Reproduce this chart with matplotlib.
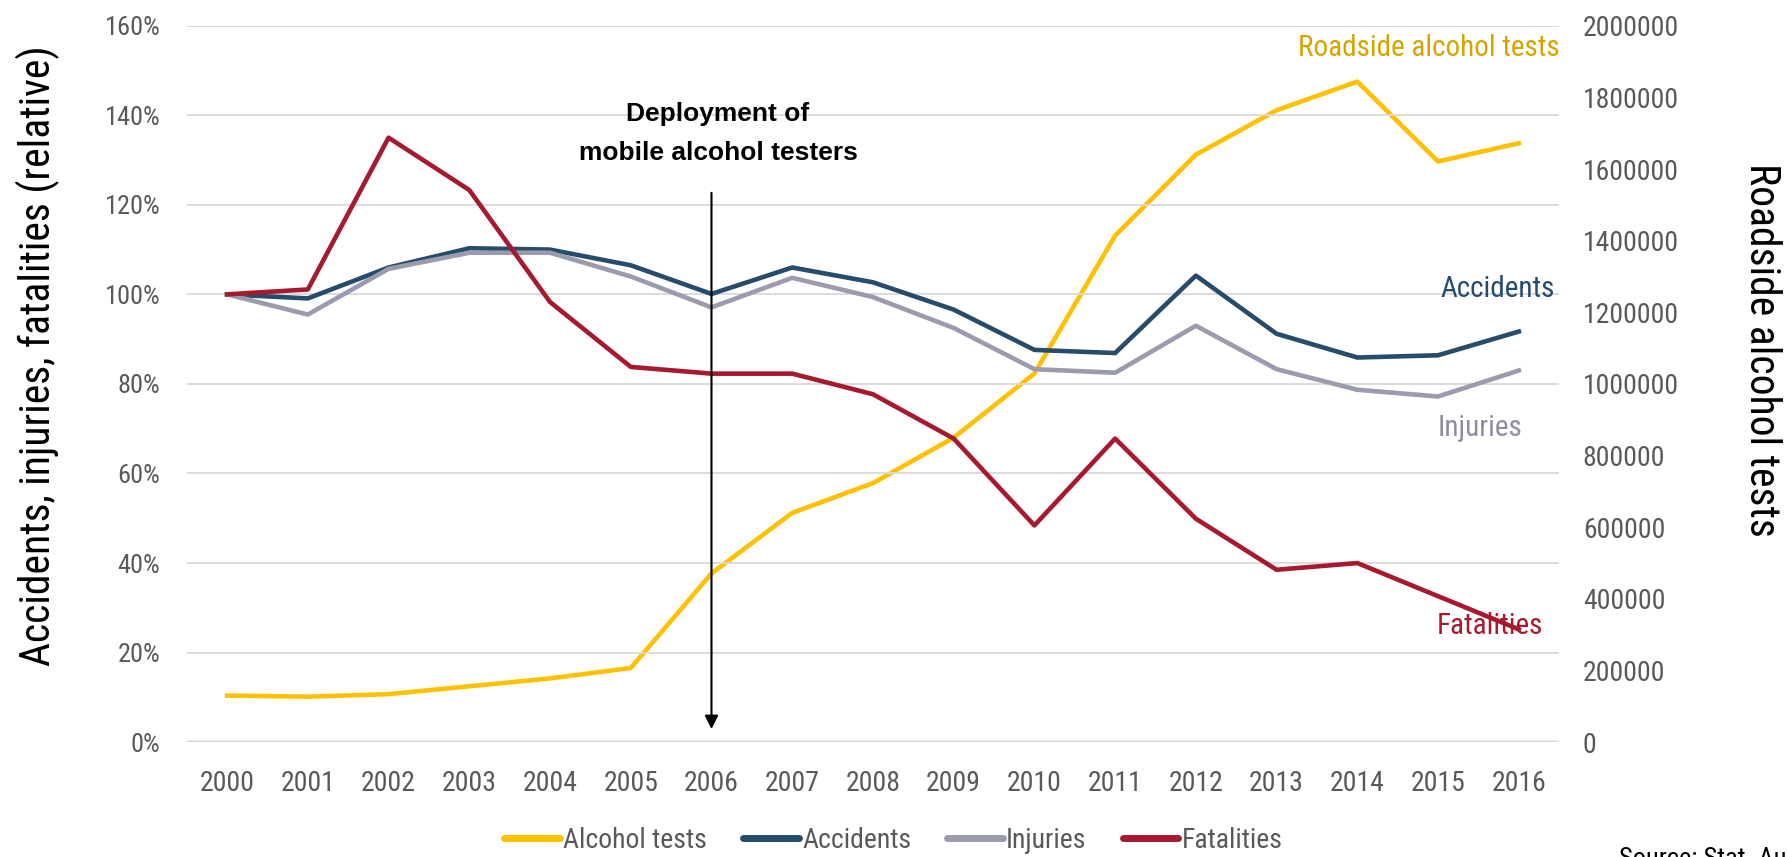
import matplotlib
matplotlib.use("Agg")
import matplotlib.pyplot as plt
from matplotlib.ticker import FuncFormatter

# data
years = ['2000', '2001', '2002', '2003', '2004', '2005', '2006', '2007', '2008',
         '2009', '2010', '2011', '2012', '2013', '2014', '2015', '2016']
alcohol_tests = [130000, 127000, 134000, 156000, 178000, 207000, 471000, 640000, 723000,
                 850000, 1029000, 1414000, 1640000, 1764000, 1844000, 1621000, 1672000]
accidents = [100, 99.1, 106, 110.3, 110, 106.5, 100.1, 106, 102.7,
             96.6, 87.6, 86.9, 104.2, 91.2, 85.9, 86.4, 91.7]
injuries = [100, 95.5, 105.7, 109.3, 109.3, 104, 97.1, 103.7, 99.4,
            92.5, 83.3, 82.5, 93, 83.3, 78.7, 77.2, 83]
fatalities = [100, 101.1, 135, 123.3, 98.3, 83.8, 82.3, 82.3, 77.7,
              67.8, 48.4, 67.8, 49.9, 38.5, 40, 32.6, 25.2]

c_alc = '#FFC000'
c_acc = '#264B6B'
c_inj = '#9A9BAD'
c_fat = '#A6192E'
tick_col = '#595959'
narrow = ['Roboto Condensed', 'Liberation Sans', 'DejaVu Sans']
plain = ['Liberation Sans', 'DejaVu Sans']

fig = plt.figure(figsize=(17.87, 8.57), dpi=100)
ax1 = fig.add_axes([0.1045, 0.134, 0.768, 0.836])
ax2 = ax1.twinx()

x = list(range(len(years)))
lw = 3.3
l_alc, = ax2.plot(x, alcohol_tests, color=c_alc, lw=lw, solid_joinstyle='round')
l_acc, = ax1.plot(x, accidents, color=c_acc, lw=lw, solid_joinstyle='round')
l_inj, = ax1.plot(x, injuries, color=c_inj, lw=lw, solid_joinstyle='round')
l_fat, = ax1.plot(x, fatalities, color=c_fat, lw=lw, solid_joinstyle='round')
ax1.set_zorder(ax2.get_zorder() + 1)
ax1.patch.set_visible(False)

ax1.set_xlim(-0.5, 16.5)
ax1.set_ylim(0, 160)
ax2.set_ylim(0, 2000000)
ax1.set_yticks(range(0, 161, 20))
ax2.set_yticks(range(0, 2000001, 200000))
ax1.yaxis.set_major_formatter(FuncFormatter(lambda v, p: f'{v:.0f}%'))
ax2.yaxis.set_major_formatter(FuncFormatter(lambda v, p: f'{v:.0f}'))
ax1.set_xticks(x)
ax1.set_xticklabels(years, family=narrow, fontsize=20, color=tick_col)

ax1.grid(axis='y', color='#D9D9D9', lw=1.3)
ax1.set_axisbelow(True)
for ax in (ax1, ax2):
    for s in ('top', 'left', 'right', 'bottom'):
        ax.spines[s].set_visible(False)
ax1.axhline(0, color='#BFBFBF', lw=2.5, zorder=0)

ax1.tick_params(axis='both', length=0)
ax2.tick_params(axis='both', length=0)
ax1.tick_params(axis='x', pad=20)
ax1.tick_params(axis='y', pad=19)
ax2.tick_params(axis='y', pad=17)
for lab in ax1.get_yticklabels():
    lab.set_family(narrow)
    lab.set_fontsize(19)
    lab.set_color(tick_col)
for lab in ax2.get_yticklabels():
    lab.set_family(narrow)
    lab.set_fontsize(20)
    lab.set_color(tick_col)

# axis titles
fig.text(0.021, 0.585, 'Accidents, injuries, fatalities (relative)', family=narrow,
         fontsize=30, rotation=90, ha='center', va='center')
fig.text(0.9855, 0.592, 'Roadside alcohol tests', family=narrow, fontsize=30,
         rotation=-90, ha='center', va='center')

# series labels
ax1.text(16.5, 153.3, 'Roadside alcohol tests', color='#D4A500', family=narrow,
         fontsize=21, ha='right', va='baseline')
ax1.text(16.44, 99.4, 'Accidents', color=c_acc, family=narrow,
         fontsize=21, ha='right', va='baseline')
ax1.text(16.04, 68.4, 'Injuries', color='#8C8DA3', family=narrow,
         fontsize=21, ha='right', va='baseline')
ax1.text(16.3, 24.1, 'Fatalities', color=c_fat, family=narrow,
         fontsize=21, ha='right', va='baseline')

# deployment annotation
ax1.annotate('', xy=(6, 2.3), xytext=(6, 123.3),
             arrowprops=dict(arrowstyle='-|>', color='black', lw=1.5,
                             mutation_scale=20))
ax1.text(6.08, 136.0, 'Deployment of\nmobile alcohol testers', family=plain,
         fontsize=19, fontweight='bold', ha='center', va='center',
         linespacing=1.8)

leg = fig.legend([l_alc, l_acc, l_inj, l_fat],
                 ['Alcohol tests', 'Accidents', 'Injuries', 'Fatalities'],
                 loc='center', bbox_to_anchor=(0.5, 0.019), ncol=4, frameon=False,
                 prop={'family': narrow, 'size': 20}, labelcolor=tick_col,
                 handlelength=2.0, handletextpad=0.12, columnspacing=1.3)
for h in leg.legend_handles:
    h.set_linewidth(5)
    h.set_solid_capstyle('round')

fig.text(0.906, 0.0117, 'Source: Stat. Austria', family=narrow, fontsize=19,
         va='top', ha='left', color='black')

fig.savefig('out.png', dpi=100)
